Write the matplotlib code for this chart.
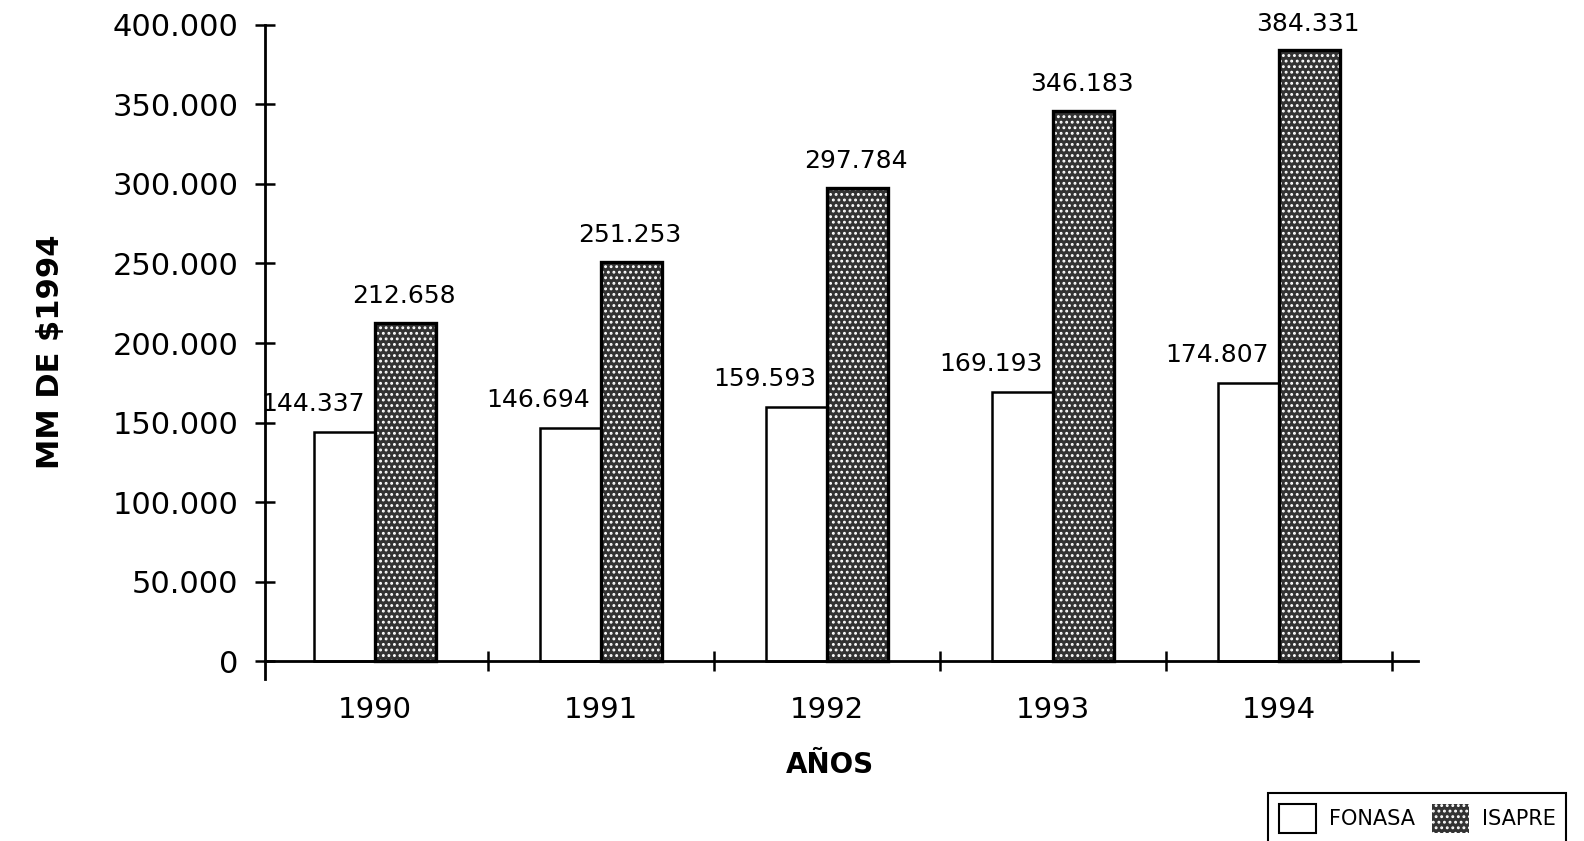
import matplotlib
matplotlib.use("Agg")
import matplotlib.pyplot as plt
import numpy as np
from matplotlib.patches import Patch

years = ["1990", "1991", "1992", "1993", "1994"]
fonasa = [144337, 146694, 159593, 169193, 174807]
isapre = [212658, 251253, 297784, 346183, 384331]
fonasa_lbl = ["144.337", "146.694", "159.593", "169.193", "174.807"]
isapre_lbl = ["212.658", "251.253", "297.784", "346.183", "384.331"]
yticks = [0, 50000, 100000, 150000, 200000, 250000, 300000, 350000, 400000]
ytick_lbl = ["0", "50.000", "100.000", "150.000", "200.000", "250.000",
             "300.000", "350.000", "400.000"]

DARK = "0.2"
W = 0.27

plt.rcParams["font.family"] = ["DejaVu Sans"]
plt.rcParams["hatch.linewidth"] = 1.3
fig = plt.figure(figsize=(15.84, 8.41), dpi=100)
ax = fig.add_axes([0.1673, 0.1932, 0.7279, 0.7771])

x = np.arange(len(years))
ax.bar(x - W / 2, fonasa, W, color="white", edgecolor="black", linewidth=1.8)
# stipple fill then black outline on top
ax.bar(x + W / 2, isapre, W, color=DARK, edgecolor="white", hatch="...", linewidth=0)
ax.bar(x + W / 2, isapre, W, fill=False, edgecolor="black", linewidth=2.4)

for i in range(len(years)):
    ax.annotate(fonasa_lbl[i], (x[i] - W / 2, fonasa[i]), xytext=(-23, 20),
                textcoords="offset points", ha="center", va="center", fontsize=18)
    ax.annotate(isapre_lbl[i], (x[i] + W / 2, isapre[i]), xytext=(-1, 19),
                textcoords="offset points", ha="center", va="center", fontsize=18)

ax.set_xlim(-0.487, 4.615)
ax.set_ylim(-11000, 400000)
ax.spines["top"].set_visible(False)
ax.spines["right"].set_visible(False)
ax.spines["bottom"].set_position(("data", 0))
for s in ("left", "bottom"):
    ax.spines[s].set_linewidth(2)

ax.set_yticks(yticks)
ax.set_yticklabels(ytick_lbl, fontsize=22)
ax.tick_params(axis="y", direction="inout", length=14, width=1.8, pad=12)

ax.set_xticks(x)
ax.set_xticklabels(years, fontsize=21)
ax.set_xticks(np.arange(0.5, 5, 1), minor=True)
ax.tick_params(axis="x", which="major", length=0, pad=25)
ax.tick_params(axis="x", which="minor", direction="inout", length=14, width=1.8)

ax.set_ylabel("MM DE $1994", fontsize=22, fontweight="bold", labelpad=34)
fig.text(0.524, 0.09, "AÑOS", fontsize=20, fontweight="bold", ha="center", va="center")

handles = [Patch(facecolor="white", edgecolor="black", linewidth=1.5),
           Patch(facecolor=DARK, edgecolor="white", hatch="...", linewidth=0)]
leg = fig.legend(handles, ["FONASA", "ISAPRE"], ncol=2, loc="upper left",
                 bbox_to_anchor=(1258 / 1584, 1 - 783 / 841),
                 prop={"family": ["Liberation Sans Narrow", "DejaVu Sans"], "size": 15},
                 fancybox=False, edgecolor="black", framealpha=1,
                 handlelength=1.8, handleheight=1.8, columnspacing=0.8,
                 handletextpad=0.6, borderpad=0.5)
leg.get_frame().set_linewidth(1.5)

fig.savefig("out.png", dpi=100)
